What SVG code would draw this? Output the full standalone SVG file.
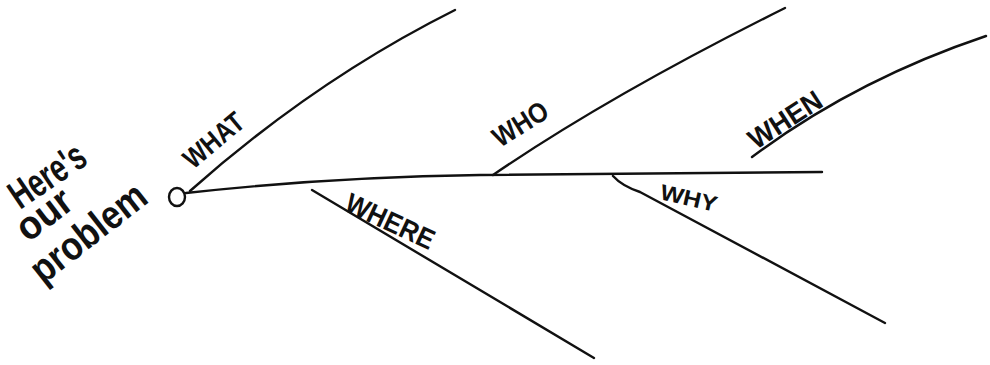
<svg xmlns="http://www.w3.org/2000/svg" width="990" height="365" viewBox="0 0 990 365">
  <style>
    .bone { fill: none; stroke: #111; stroke-width: 2.4; stroke-linecap: round; stroke-linejoin: round; }
    .lbl { font-family: "Liberation Sans", Arial, sans-serif; font-weight: bold; fill: #111; }
    .cap { font-size: 28px; }
    .hand { font-size: 40px; }
  </style>
  <rect width="990" height="365" fill="#ffffff"/>

  <g id="connectors">
    <path class="bone" d="M186,193 Q330,177 480,175 L822,172"/>
    <path class="bone" d="M190,191 Q315,80 455,10"/>
    <path class="bone" d="M493,175 Q610,95 785,8"/>
    <path class="bone" d="M752,157 Q855,80 986,36"/>
    <path class="bone" d="M312,190 L594,358"/>
    <path class="bone" d="M613,176 Q622,186 640,192 L885,323"/>
  </g>

  <g id="problem">
    <ellipse cx="177" cy="197" rx="8" ry="9" fill="none" stroke="#111" stroke-width="2.4"/>
    <text class="lbl hand" transform="translate(20,210) rotate(-34)" textLength="84" lengthAdjust="spacingAndGlyphs">Here's</text>
    <text class="lbl hand" transform="translate(28,243) rotate(-37)" textLength="60" lengthAdjust="spacingAndGlyphs">our</text>
    <text class="lbl hand" transform="translate(43,285) rotate(-38)" textLength="136" lengthAdjust="spacingAndGlyphs">problem</text>
  </g>

  <g id="what">
    <text class="lbl cap" transform="translate(193,170) rotate(-40)" textLength="70" lengthAdjust="spacingAndGlyphs">WHAT</text>
  </g>
  <g id="who">
    <text class="lbl cap" transform="translate(500,148) rotate(-32)" textLength="60" lengthAdjust="spacingAndGlyphs">WHO</text>
  </g>
  <g id="when">
    <text class="lbl cap" transform="translate(756,150) rotate(-33)" textLength="82" lengthAdjust="spacingAndGlyphs">WHEN</text>
  </g>
  <g id="where">
    <text class="lbl cap" transform="translate(343,210) rotate(25)" textLength="95" lengthAdjust="spacingAndGlyphs">WHERE</text>
  </g>
  <g id="why">
    <text class="lbl cap" style="font-size:22px" transform="translate(659,199) rotate(13)" textLength="58" lengthAdjust="spacingAndGlyphs">WHY</text>
  </g>
</svg>
